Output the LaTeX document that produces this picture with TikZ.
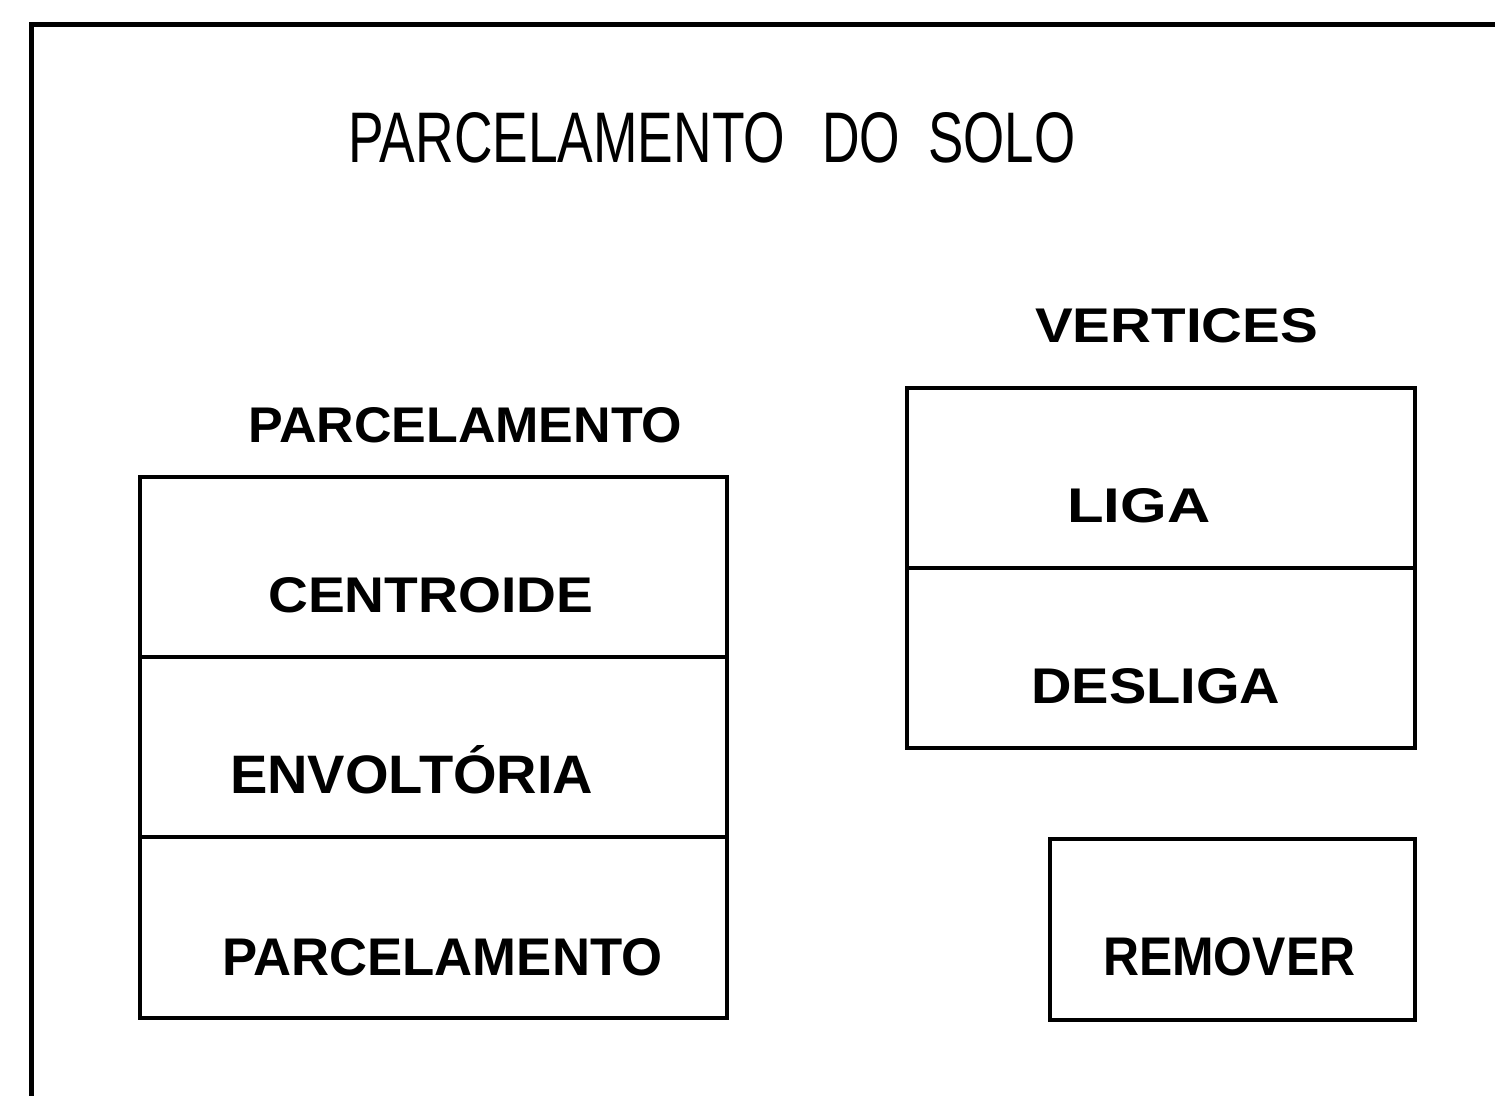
\documentclass[tikz,border=0pt]{standalone}
\usepackage{fontspec}
\setmainfont{Liberation Sans}
\usepackage{graphicx}
\newcommand{\fitlbl}[3]{\resizebox{#1pt}{#2pt}{#3}}
\begin{document}
\begin{tikzpicture}[x=1pt,y=-1pt,
  cell/.style={draw=black,line width=4.5pt,rectangle,inner sep=0pt},
  lbl/.style={inner sep=0pt,anchor=base west,font=\bfseries},
  ttl/.style={inner sep=0pt,anchor=base west}]
\useasboundingbox (0,0) rectangle (1495,1095);
\clip (0,0) rectangle (1495,1095);
% outer frame (continues past the page)
\coordinate (fbl) at (31,1120);
\coordinate (ftl) at (31,24);
\coordinate (ftr) at (1520,24);
\draw[line width=5pt,line join=miter] (fbl) -- (ftl) -- (ftr);
% title
\node[ttl] (title) at (348,162) {\fitlbl{437}{50}{PARCELAMENTO}\hspace{37pt}\fitlbl{78}{50}{DO}\hspace{28pt}\fitlbl{147}{50}{SOLO}};
% headers
\node[lbl] (hparc) at (248,442) {\fitlbl{434}{35}{PARCELAMENTO}};
\node[lbl] (hvert) at (1035,342) {\fitlbl{283}{34}{VERTICES}};
% left stack of cells
\node[cell,minimum width=587pt,minimum height=180pt] (c1) at (433.5,567) {};
\node[cell,minimum width=587pt,minimum height=180pt] (c2) at (433.5,747) {};
\node[cell,minimum width=587pt,minimum height=181pt] (c3) at (433.5,927.5) {};
\node[lbl] (tc1) at (268,612) {\fitlbl{325}{35}{CENTROIDE}};
\node[lbl] (tc2) at (230,793) {\fitlbl{363}{48}{ENVOLTÓRIA}};
\node[lbl] (tc3) at (222,975) {\fitlbl{440}{37}{PARCELAMENTO}};
% right stack of cells
\node[cell,minimum width=508pt,minimum height=180pt] (r1) at (1161,478) {};
\node[cell,minimum width=508pt,minimum height=180pt] (r2) at (1161,658) {};
\node[lbl] (tr1) at (1067,522) {\fitlbl{143}{34}{LIGA}};
\node[lbl] (tr2) at (1031,703) {\fitlbl{249}{35}{DESLIGA}};
% remover button
\node[cell,minimum width=365pt,minimum height=181pt] (rm) at (1232.5,929.5) {};
\node[lbl] (trm) at (1103,975) {\fitlbl{252}{38}{REMOVER}};
\end{tikzpicture}
\end{document}
